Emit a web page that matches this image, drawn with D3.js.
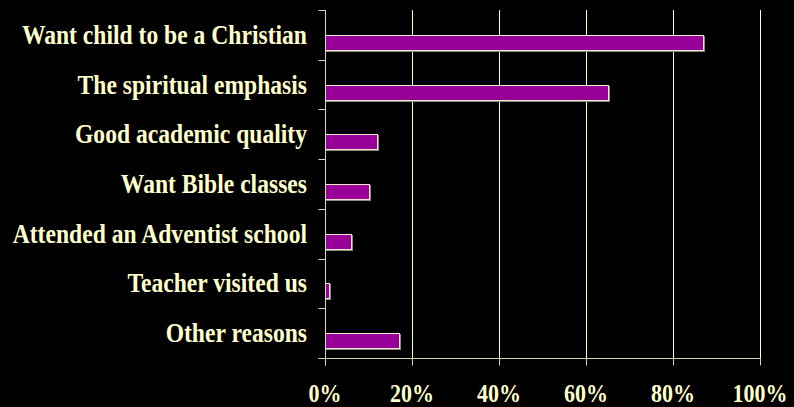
<!DOCTYPE html>
<html>
<head>
<meta charset="utf-8">
<script src="https://cdn.jsdelivr.net/npm/d3@7"></script>
<style>
  html, body { margin: 0; padding: 0; background: #000; }
  svg { display: block; }
  text { font-family: "Liberation Serif", "Times New Roman", serif; font-weight: bold; fill: #ffffcc; }
</style>
</head>
<body>
<svg id="chart" width="794" height="407"></svg>
<script>
// Reasons parents gave for choosing the school (percent of respondents)
const categories = [
  "Want child to be a Christian",
  "The spiritual emphasis",
  "Good academic quality",
  "Want Bible classes",
  "Attended an Adventist school",
  "Teacher visited us",
  "Other reasons"
];
const percentValues = [87, 65, 12, 10, 6, 1, 17];
const tickValues = [0, 20, 40, 60, 80, 100];

const svg = d3.select("#chart");
const W = 794, H = 407;
const margin = { top: 10, right: 34, bottom: 49, left: 325 };
const textStretch = 1.12;   // slightly tall lettering

const x = d3.scaleLinear().domain([0, 100]).range([margin.left, W - margin.right]);
const y = d3.scaleBand().domain(categories).range([margin.top, H - margin.bottom]);
// snap to pixel centres so 1px lines stay crisp
const px = v => Math.round(v) + 0.5;

const gridColor = "#ffffcc";
const axisColor = "#d8d8b0";
const baseY = px(H - margin.bottom);

// vertical gridlines
svg.append("g")
  .selectAll("line")
  .data(tickValues.filter(d => d > 0))
  .join("line")
  .attr("x1", d => px(x(d))).attr("x2", d => px(x(d)))
  .attr("y1", margin.top).attr("y2", baseY)
  .attr("stroke", gridColor).attr("stroke-width", 1);

// bars: shadow, then fill with light edge
const bh = Math.round(y.bandwidth() * 0.3);
const barTop = d => px(y(d) + y.bandwidth() / 2);
const barW = i => Math.round(x(percentValues[i]) - x(0));
const bars = svg.append("g");
bars.selectAll("rect.shadow")
  .data(categories)
  .join("rect")
  .attr("class", "shadow")
  .attr("x", px(x(0)) + 1)
  .attr("y", d => barTop(d) + 1)
  .attr("width", (d, i) => barW(i))
  .attr("height", bh)
  .attr("fill", "none")
  .attr("stroke", "#8a8a80");
bars.selectAll("rect.bar")
  .data(categories)
  .join("rect")
  .attr("class", "bar")
  .attr("x", px(x(0)))
  .attr("y", barTop)
  .attr("width", (d, i) => barW(i))
  .attr("height", bh)
  .attr("fill", "#990099")
  .attr("stroke", "#f0ecc8")
  .attr("stroke-width", 1);

// y axis: line with ticks at band boundaries
const yAxisG = svg.append("g");
yAxisG.append("line")
  .attr("x1", px(x(0))).attr("x2", px(x(0)))
  .attr("y1", margin.top).attr("y2", baseY + 7)
  .attr("stroke", axisColor);
const bounds = categories.map(c => y(c)).concat([H - margin.bottom]);
yAxisG.selectAll("line.tick")
  .data(bounds)
  .join("line")
  .attr("class", "tick")
  .attr("x1", px(x(0)) - 7).attr("x2", px(x(0)))
  .attr("y1", d => px(d)).attr("y2", d => px(d))
  .attr("stroke", axisColor);

// category labels
yAxisG.selectAll("text")
  .data(categories)
  .join("text")
  .attr("transform", d => `translate(${x(0) - 18},${y(d) + y.bandwidth() / 2 + 9}) scale(1,${textStretch})`)
  .attr("text-anchor", "end")
  .attr("font-size", 23.6)
  .text(d => d);

// x axis
const xAxisG = svg.append("g");
xAxisG.append("line")
  .attr("x1", px(x(0)) - 7).attr("x2", px(x(100)))
  .attr("y1", baseY).attr("y2", baseY)
  .attr("stroke", axisColor);
xAxisG.selectAll("line.tick")
  .data(tickValues)
  .join("line")
  .attr("class", "tick")
  .attr("x1", d => px(x(d))).attr("x2", d => px(x(d)))
  .attr("y1", baseY).attr("y2", baseY + 7)
  .attr("stroke", axisColor);
xAxisG.selectAll("text")
  .data(tickValues)
  .join("text")
  .attr("transform", d => `translate(${x(d)},${H - margin.bottom + 43.5}) scale(1,${textStretch})`)
  .attr("text-anchor", "middle")
  .attr("font-size", 22)
  .text(d => d + "%");
</script>
</body>
</html>
